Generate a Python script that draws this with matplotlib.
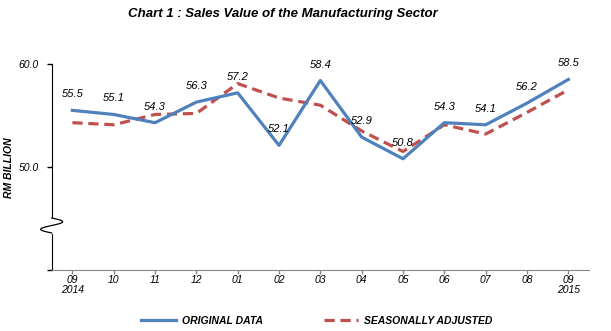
import numpy as np
import matplotlib
matplotlib.use("Agg")
import matplotlib.pyplot as plt

plt.rcParams['font.family'] = ['Liberation Sans', 'DejaVu Sans']

# data
months = ['09\n2014', '10', '11', '12', '01', '02', '03', '04', '05', '06', '07', '08', '09\n2015']
original = [55.5, 55.1, 54.3, 56.3, 57.2, 52.1, 58.4, 52.9, 50.8, 54.3, 54.1, 56.2, 58.5]
seasonal = [54.3, 54.1, 55.1, 55.2, 58.1, 56.7, 56.0, 53.5, 51.5, 54.1, 53.2, 55.3, 57.5]

blue = '#4F81BD'
red = '#C0504D'

W, H = 611, 331
fig = plt.figure(figsize=(W / 100, H / 100), dpi=100)
ax = fig.add_axes([51.7 / W, 1 - 270 / H, (589 - 51.7) / W, (270 - 64) / H])

x = np.arange(len(months))
ax.plot(x, original, color=blue, lw=2.3, label='ORIGINAL DATA', zorder=3)
ax.plot(x, seasonal, color=red, lw=2.3, ls=(0, (3.2, 1.8)), label='SEASONALLY ADJUSTED', zorder=2)

for xi, v in zip(x, original):
    ax.annotate(f'{v:.1f}', (xi, v), xytext=(0, 11.5), textcoords='offset points',
                ha='center', va='center', fontsize=8, style='italic', zorder=4)

ax.set_xlim(-0.5, len(months) - 0.5)
ax.set_ylim(40, 60)
ax.set_yticks([40, 50, 60])
ax.set_yticklabels(['', '50.0', '60.0'], fontsize=7.5, style='italic')
ax.set_xticks(x)
ax.set_xticklabels(months, fontsize=7.5, style='italic', linespacing=1.05)
ax.tick_params(axis='y', length=3.5, width=1, pad=6)
ax.tick_params(axis='x', length=3, width=1, color='#868686', pad=0.5)

for s in ['top', 'right']:
    ax.spines[s].set_visible(False)
ax.spines['left'].set_color('black')
ax.spines['bottom'].set_color('#868686')

# axis break squiggle
aw, ah = 589 - 51.7, 270 - 64
yb = (270 - 225.5) / ah
ax.add_patch(plt.Rectangle((-3 / aw, yb - 7.5 / ah), 6 / aw, 15 / ah, transform=ax.transAxes,
                           color='white', clip_on=False, zorder=5))
t = np.linspace(0, 1, 60)
ax.plot(11 * np.sin(2 * np.pi * t) / aw, yb + (7.5 - 15 * t) / ah, color='black', lw=0.9,
        transform=ax.transAxes, clip_on=False, zorder=6)

fig.text(283 / W, 1 - 14 / H, 'Chart 1 : Sales Value of the Manufacturing Sector',
         ha='center', va='center', fontsize=9.5, weight='bold', style='italic')
fig.text(9 / W, 1 - 168 / H, 'RM BILLION', rotation=90, ha='center', va='center',
         fontsize=7.5, weight='bold', style='italic')

leg = fig.legend(loc='center', bbox_to_anchor=(317 / W, 1 - 321 / H), ncol=2, frameon=False,
                 handlelength=3.3, handletextpad=0.6, columnspacing=5.8,
                 prop={'size': 7.5, 'weight': 'bold', 'style': 'italic'})

fig.savefig('out.png', dpi=100)
